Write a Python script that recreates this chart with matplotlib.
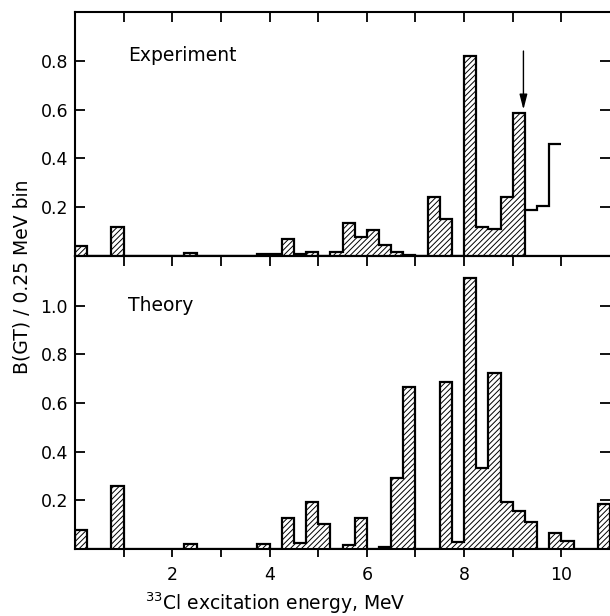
import numpy as np
import matplotlib
matplotlib.use("Agg")
import matplotlib.pyplot as plt

# ---- data (B(GT) per 0.25 MeV bin) ----
bin_width = 0.25
exp_values = [0.04, 0, 0, 0.12, 0, 0, 0, 0, 0, 0.012, 0, 0, 0, 0, 0,
              0.008, 0.008, 0.07, 0.008, 0.015, 0, 0.015, 0.135, 0.078,
              0.106, 0.045, 0.016, 0.005, 0, 0.24, 0.15, 0, 0.82, 0.118,
              0.11, 0.24, 0.585]
exp_tail_start = 9.25
exp_tail_values = [0.19, 0.205, 0.46]
theory_values = [0.08, 0, 0, 0.26, 0, 0, 0, 0, 0, 0.02, 0, 0, 0, 0, 0,
                 0.02, 0, 0.128, 0.025, 0.195, 0.103, 0, 0.015, 0.128,
                 0, 0.01, 0.292, 0.667, 0, 0, 0.687, 0.03, 1.115, 0.333,
                 0.724, 0.193, 0.157, 0.11, 0, 0.066, 0.033, 0, 0, 0.185]
arrow_x = 9.22
arrow_y = (0.6, 0.84)
top_yticks = [0.2, 0.4, 0.6, 0.8]
bot_yticks = [0.2, 0.4, 0.6, 0.8, 1.0]
xticks = list(range(1, 11))
xticklabels = ["" if t % 2 else str(t) for t in xticks]

plt.rcParams['font.family'] = ['DejaVu Sans']
plt.rcParams['hatch.linewidth'] = 0.7
plt.rcParams['hatch.color'] = 'black'

fig = plt.figure(figsize=(6.10, 6.16), dpi=100)
left, right = 75 / 610, 1.0
y_bot = 1 - 549 / 616
y_mid = 1 - 256 / 616
y_top = 1 - 12 / 616
ax1 = fig.add_axes([left, y_mid, right - left, y_top - y_mid])
ax2 = fig.add_axes([left, y_bot, right - left, y_mid - y_bot])

lw = 1.6

def edges_for(vals, start=0.0):
    return start + bin_width * np.arange(len(vals) + 1)

# Experiment
ax1.stairs(exp_values, edges_for(exp_values), fill=True, hatch='//////',
           facecolor='none', edgecolor='black', linewidth=lw)
ax1.stairs(exp_tail_values, edges_for(exp_tail_values, exp_tail_start),
           baseline=None, color='black', linewidth=lw)
ax1.annotate('', xy=(arrow_x, arrow_y[0]), xytext=(arrow_x, arrow_y[1]),
             arrowprops=dict(arrowstyle='-|>,head_width=0.18,head_length=0.7',
                             color='black', lw=1.0,
                             mutation_scale=13, shrinkA=0, shrinkB=0))
ax1.text(1.1, 0.82, 'Experiment', fontsize=13.5, va='center', ha='left')

# Theory
ax2.stairs(theory_values, edges_for(theory_values), fill=True, hatch='//////',
           facecolor='none', edgecolor='black', linewidth=lw)
ax2.text(1.1, 1.0, 'Theory', fontsize=13.5, va='center', ha='left')

for ax in (ax1, ax2):
    ax.set_xlim(0, 11)
    ax.spines['right'].set_visible(False)
    for s in ('left', 'top', 'bottom'):
        ax.spines[s].set_linewidth(1.5)
    ax.tick_params(axis='y', which='both', direction='in', left=True,
                   right=True, length=7, width=1.3, labelsize=12.5, pad=5)

ax1.set_ylim(0, 1.0)
ax1.set_yticks(top_yticks)
ax1.set_yticklabels([f"{v:.1f}" for v in top_yticks])
ax1.set_xticks(xticks)
ax1.tick_params(axis='x', direction='in', top=True, bottom=False,
                labeltop=False, labelbottom=False, length=7, width=1.3)

ax2.set_ylim(0, 1.205)
ax2.set_yticks(bot_yticks)
ax2.set_yticklabels([f"{v:.1f}" for v in bot_yticks])
ax2.set_xticks(xticks)
ax2.set_xticklabels(xticklabels)
ax2.tick_params(axis='x', direction='out', bottom=True, length=6,
                width=1.3, labelsize=12.5, pad=6)
sec = ax2.secondary_xaxis('top')
sec.set_xticks(xticks)
sec.set_xticklabels([])
sec.tick_params(direction='in', length=7, width=1.3)
sec.spines['top'].set_linewidth(1.5)

fig.text(275 / 610, 1 - 603 / 616, r'$^{33}$Cl excitation energy, MeV',
         ha='center', va='center', fontsize=13.5)
fig.text(22 / 610, 1 - 277 / 616, 'B(GT) / 0.25 MeV bin', rotation=90,
         ha='center', va='center', fontsize=13.5)

fig.savefig('out.png', dpi=100)
